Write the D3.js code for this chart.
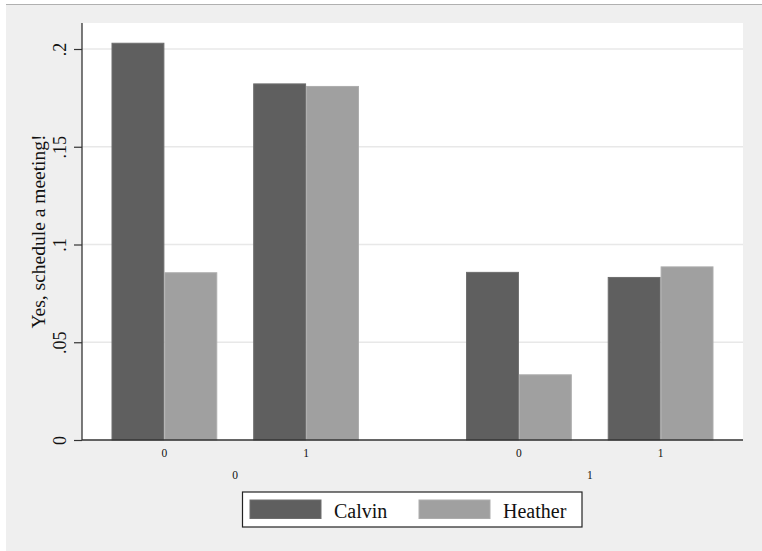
<!DOCTYPE html>
<html><head><meta charset="utf-8">
<script src="https://cdn.jsdelivr.net/npm/d3@7"></script>
<style>body{margin:0;background:#fff}svg{display:block}</style>
</head><body>
<svg id="c" width="762" height="551"></svg>
<script>
const outerGroups = ["0", "1"];
const innerGroups = ["0", "1"];
const seriesNames = ["Calvin", "Heather"];
const calvin  = [0.2032, 0.1824, 0.0860, 0.0834];
const heather = [0.0858, 0.1811, 0.0336, 0.0888];
const yTicks = [0, 0.05, 0.1, 0.15, 0.2];
const yTickLabels = ["0", ".05", ".1", ".15", ".2"];
const yTitle = "Yes, schedule a meeting!";

const colors = {Calvin: "#5f5f5f", Heather: "#a0a0a0"};
const edge = {Calvin: "#6e6e6e", Heather: "#adadad"};
const font = "'Liberation Serif', 'Times New Roman', serif";

const svg = d3.select("#c");
// background
svg.append("rect").attr("x", 6).attr("y", 4).attr("width", 756).attr("height", 547).attr("fill", "#efefef");
svg.append("line").attr("x1", 6).attr("x2", 762).attr("y1", 4.5).attr("y2", 4.5).attr("stroke", "#b0b0b0").attr("stroke-width", 1);

const L = 82, R = 743, T = 23, B = 440;
svg.append("rect").attr("x", L).attr("y", T).attr("width", R - L).attr("height", B - T).attr("fill", "#fff");

const y = d3.scaleLinear().domain([0, 0.2]).range([B, 49]);

// gridlines
svg.append("g").selectAll("line").data(yTicks.filter(d => d > 0)).join("line")
  .attr("x1", L).attr("x2", R).attr("y1", d => y(d)).attr("y2", d => y(d))
  .attr("stroke", "#e8e8e8").attr("stroke-width", 1.6);

const xOuter = d3.scaleBand().domain(outerGroups).range([L, R]).paddingInner(0.302).paddingOuter(0.0832);
const xInner = d3.scaleBand().domain(innerGroups).range([0, xOuter.bandwidth()]).paddingInner(0.2535).paddingOuter(0);
const xSeries = d3.scaleBand().domain(seriesNames).range([0, xInner.bandwidth()]).padding(0);

const rows = [];
outerGroups.forEach((o, i) => innerGroups.forEach((n, j) => {
  const k = i * innerGroups.length + j;
  rows.push({o, n, s: "Calvin", v: calvin[k]});
  rows.push({o, n, s: "Heather", v: heather[k]});
}));

svg.append("g").selectAll("rect").data(rows).join("rect")
  .attr("x", d => xOuter(d.o) + xInner(d.n) + xSeries(d.s) + 0.5)
  .attr("y", d => y(d.v) + 0.5)
  .attr("width", xSeries.bandwidth() - 1)
  .attr("height", d => y(0) - y(d.v) - 0.5)
  .attr("fill", d => colors[d.s])
  .attr("stroke", d => edge[d.s]).attr("stroke-width", 1);

// y axis
const yAxis = svg.append("g").attr("transform", `translate(${L},0)`)
  .call(d3.axisLeft(y).tickValues(yTicks).tickSize(8).tickPadding(0).tickFormat((d, i) => yTickLabels[i]));
yAxis.select(".domain").attr("d", `M0,${T}V${B}`).attr("stroke", "#333").attr("stroke-width", 1.3);
yAxis.selectAll(".tick line").attr("stroke", "#333").attr("stroke-width", 1.2);
yAxis.selectAll(".tick text")
  .attr("x", null).attr("dy", null)
  .attr("transform", "translate(-16,0) rotate(-90)")
  .attr("text-anchor", "middle")
  .attr("font-family", font).attr("font-size", 18).attr("fill", "#111");

// x axis line
svg.append("line").attr("x1", L).attr("x2", R).attr("y1", B).attr("y2", B).attr("stroke", "#333").attr("stroke-width", 1.6);

// inner labels
const innerLab = [];
outerGroups.forEach(o => innerGroups.forEach(n => innerLab.push({o, n})));
svg.append("g").selectAll("text").data(innerLab).join("text")
  .attr("x", d => xOuter(d.o) + xInner(d.n) + xInner.bandwidth() / 2)
  .attr("y", 457)
  .attr("text-anchor", "middle").attr("font-family", font).attr("font-size", 11.5).attr("fill", "#111")
  .text(d => d.n);
// outer labels
svg.append("g").selectAll("text").data(outerGroups).join("text")
  .attr("x", d => xOuter(d) + xOuter.bandwidth() / 2)
  .attr("y", 479)
  .attr("text-anchor", "middle").attr("font-family", font).attr("font-size", 11.5).attr("fill", "#111")
  .text(d => d);

// y title
svg.append("text").attr("transform", `translate(45,${(T + B) / 2}) rotate(-90)`)
  .attr("text-anchor", "middle").attr("font-family", font).attr("font-size", 19.5).attr("fill", "#111")
  .text(yTitle);

// legend
const lg = svg.append("g");
lg.append("rect").attr("x", 242.5).attr("y", 492).attr("width", 339.5).attr("height", 35)
  .attr("fill", "#fff").attr("stroke", "#222").attr("stroke-width", 1.2);
const legX = d3.scaleOrdinal().domain(seriesNames).range([250, 419]);
seriesNames.forEach(s => {
  lg.append("rect").attr("x", legX(s)).attr("y", 500).attr("width", 71).attr("height", 18.5)
    .attr("fill", colors[s]).attr("stroke", edge[s]).attr("stroke-width", 1);
  lg.append("text").attr("x", legX(s) + 84).attr("y", 518)
    .attr("font-family", font).attr("font-size", 20).attr("fill", "#111").text(s);
});
</script>
</body></html>
